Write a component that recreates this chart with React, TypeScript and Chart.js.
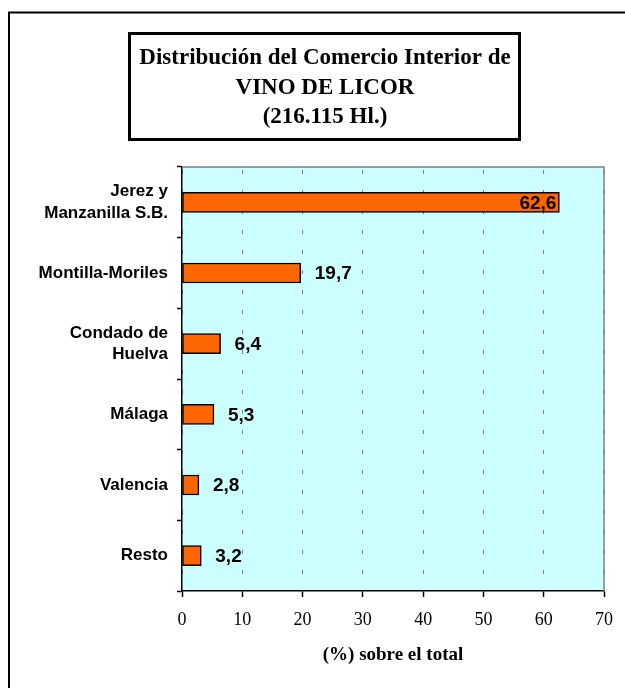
import React, { useEffect, useRef } from "react";
import { Chart, registerables } from "chart.js";

Chart.register(...registerables);

const categories: (string | string[])[] = [
  ["Jerez y", "Manzanilla S.B."],
  "Montilla-Moriles",
  ["Condado de", "Huelva"],
  "Málaga",
  "Valencia",
  "Resto",
];
const shares = [62.6, 19.7, 6.4, 5.3, 2.8, 3.2];
const titleLines = ["Distribución del Comercio Interior de", "VINO DE LICOR", "(216.115 Hl.)"];
const xAxisTitle = "(%) sobre el total";
const xMin = 0;
const xMax = 70;
const xStep = 10;

const SERIF = "'Times New Roman', 'Liberation Serif', serif";
const SANS = "Arial, 'Liberation Sans', sans-serif";

const decorPlugin = {
  id: "decor",
  beforeDraw(chart: any) {
    const { ctx, chartArea } = chart;
    ctx.save();
    ctx.fillStyle = "#ffffff";
    ctx.fillRect(0, 0, chart.width, chart.height);
    ctx.fillStyle = "#CCFFFF";
    ctx.fillRect(chartArea.left, chartArea.top, chartArea.right - chartArea.left, chartArea.bottom - chartArea.top);
    // outer frame (top and left visible)
    ctx.strokeStyle = "#000";
    ctx.lineWidth = 2;
    ctx.beginPath();
    ctx.moveTo(chart.width + 5, 12.5);
    ctx.lineTo(9, 12.5);
    ctx.lineTo(9, chart.height + 5);
    ctx.stroke();
    ctx.restore();
  },
  afterDatasetsDraw(chart: any) {
    const { ctx, chartArea } = chart;
    ctx.save();
    // plot frame top/right gray
    ctx.strokeStyle = "#808080";
    ctx.lineWidth = 1.5;
    ctx.beginPath();
    ctx.moveTo(chartArea.left, chartArea.top);
    ctx.lineTo(chartArea.right, chartArea.top);
    ctx.lineTo(chartArea.right, chartArea.bottom);
    ctx.stroke();

    // value labels
    const meta = chart.getDatasetMeta(0);
    ctx.font = `bold 19px ${SANS}`;
    ctx.fillStyle = "#000";
    ctx.textBaseline = "middle";
    meta.data.forEach((bar: any, i: number) => {
      const text = shares[i].toFixed(1).replace(".", ",");
      const w = ctx.measureText(text).width;
      const y = bar.y + 1;
      if (bar.x + 13 + w > chartArea.right) {
        ctx.textAlign = "right";
        ctx.fillText(text, bar.x - 3, y);
      } else {
        ctx.textAlign = "left";
        ctx.fillText(text, bar.x + 14, y);
      }
    });

    // title box
    ctx.strokeStyle = "#000";
    ctx.lineWidth = 3;
    ctx.strokeRect(129.5, 33.5, 390, 106);
    ctx.font = `bold 23px ${SERIF}`;
    ctx.textAlign = "center";
    ctx.textBaseline = "middle";
    const ys = [58, 88, 117];
    titleLines.forEach((t, i) => ctx.fillText(t, 325, ys[i]));
    ctx.restore();
  },
};

export default function App() {
  const ref = useRef<HTMLCanvasElement>(null);
  useEffect(() => {
    if (!ref.current) return;
    const chart = new Chart(ref.current, {
      type: "bar",
      data: {
        labels: categories,
        datasets: [
          {
            data: shares,
            backgroundColor: "#FF6600",
            borderColor: "#000000",
            borderWidth: 1.5,
            borderSkipped: false,
            barThickness: 20,
          },
        ],
      },
      options: {
        indexAxis: "y",
        responsive: false,
        animation: false,
        devicePixelRatio: 1,
        layout: { padding: { top: 167, right: 21, bottom: 0, left: 0 } },
        plugins: {
          legend: { display: false },
          tooltip: { enabled: false },
          title: { display: false },
        },
        scales: {
          x: {
            type: "linear",
            min: xMin,
            max: xMax,
            position: "bottom",
            ticks: {
              stepSize: xStep,
              color: "#000",
              font: { family: SERIF, size: 18 },
              padding: 12,
              maxRotation: 0,
            },
            grid: {
              color: "#808080",
              lineWidth: 1,
              tickLength: 6,
              tickColor: "#000",
              tickBorderDash: [],
              tickWidth: 1.5,
            },
            border: { display: true, color: "#000", width: 1.5, dash: [4, 16], dashOffset: -3 },
            title: {
              display: true,
              text: xAxisTitle,
              color: "#000",
              font: { family: SERIF, size: 19, weight: "bold" },
              padding: { top: 0, bottom: 22 },
            },
            afterFit(scale: any) {
              scale.height = 97;
            },
          },
          y: {
            type: "category",
            offset: true,
            ticks: {
              color: "#000",
              font: { family: SANS, size: 17, weight: "bold", lineHeight: 1.24 },
              padding: 9,
            },
            grid: {
              offset: true,
              drawOnChartArea: false,
              tickLength: 5,
              tickColor: "#000",
              tickWidth: 1.5,
            },
            border: { display: true, color: "#000", width: 1.5 },
            afterFit(scale: any) {
              scale.width = 182;
            },
          },
        },
      },
      plugins: [decorPlugin],
    } as any);
    return () => chart.destroy();
  }, []);
  return (
    <div style={{ position: "absolute", left: 0, top: 0, width: 625, height: 688 }}>
      <canvas ref={ref} width={625} height={688} style={{ display: "block" }} />
    </div>
  );
}
